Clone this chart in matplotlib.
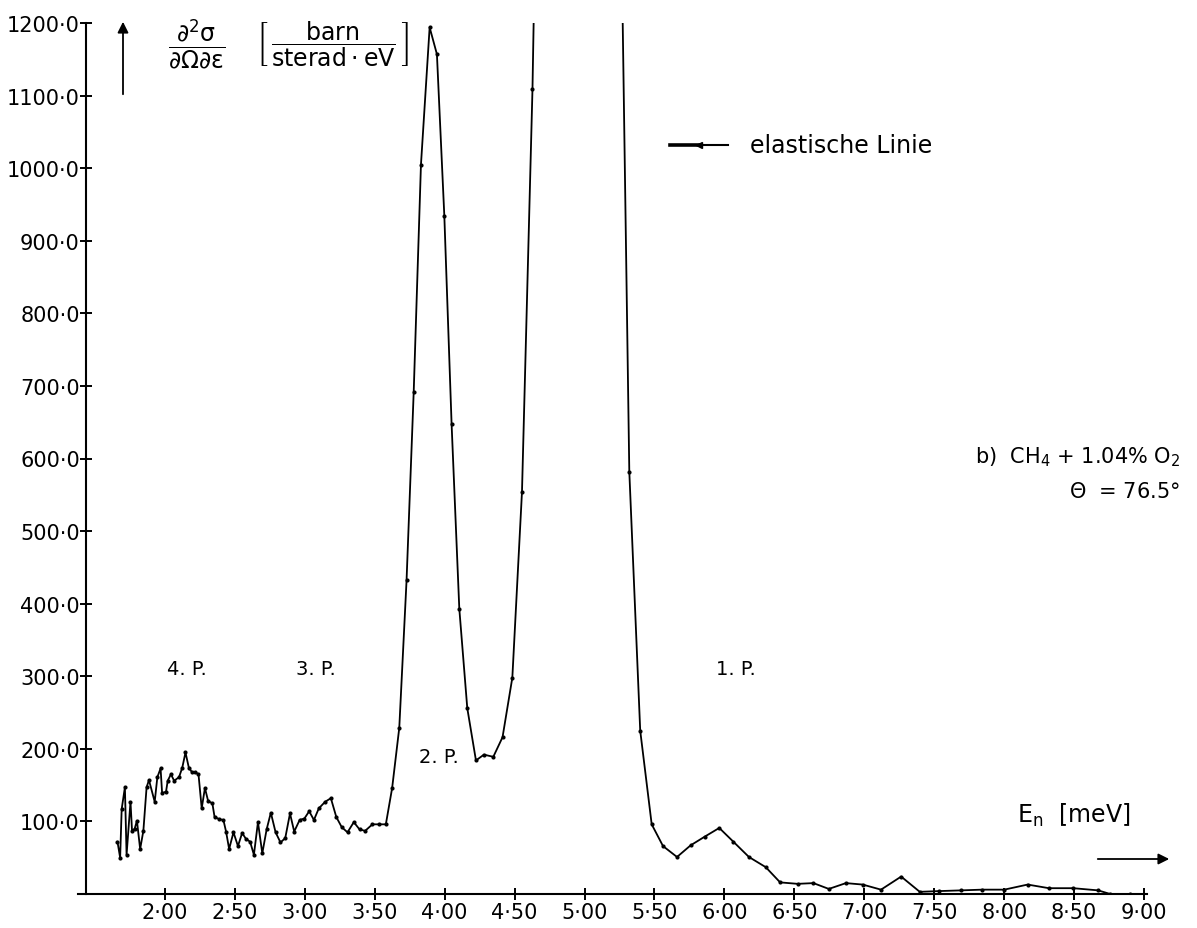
import matplotlib
matplotlib.use('Agg')
import matplotlib.pyplot as plt
from matplotlib.lines import Line2D
from matplotlib.ticker import FixedLocator, FuncFormatter

# neutron energy [meV] and double differential cross section [barn/(sterad eV)]
energy = [1.662, 1.681, 1.692, 1.715, 1.727, 1.755, 1.766, 1.785, 1.801, 1.824,
          1.847, 1.870, 1.887, 1.928, 1.947, 1.970, 1.981, 2.009, 2.021, 2.044,
          2.067, 2.102, 2.125, 2.148, 2.172, 2.194, 2.217, 2.241, 2.264, 2.287,
          2.310, 2.340, 2.356, 2.391, 2.419, 2.438, 2.460, 2.491, 2.523, 2.553,
          2.580, 2.610, 2.637, 2.666, 2.697, 2.728, 2.758, 2.792, 2.827, 2.861,
          2.895, 2.925, 2.964, 2.998, 3.032, 3.066, 3.101, 3.146, 3.187, 3.226,
          3.265, 3.306, 3.351, 3.392, 3.432, 3.484, 3.529, 3.580, 3.625, 3.676,
          3.728, 3.779, 3.831, 3.893, 3.945, 3.998, 4.050, 4.105, 4.162, 4.224,
          4.281, 4.348, 4.414, 4.484, 4.553, 4.628,
          4.70, 4.78, 4.86, 4.94, 5.02, 5.10, 5.18, 5.25,
          5.320, 5.398, 5.480, 5.561, 5.661, 5.758, 5.859, 5.963, 6.064, 6.175,
          6.295, 6.398, 6.523, 6.636, 6.746, 6.868, 6.988, 7.119, 7.263, 7.396,
          7.534, 7.691, 7.843, 8.000, 8.167, 8.319, 8.493, 8.671, 8.757, 8.90]
cross_section = [72, 50, 117, 147, 54, 127, 87, 90, 101, 62,
                 87, 147, 157, 127, 161, 173, 139, 141, 156, 165,
                 156, 161, 174, 195, 174, 168, 168, 165, 118, 146,
                 128, 125, 106, 103, 102, 86, 62, 85, 66, 84,
                 76, 72, 54, 99, 56, 89, 112, 85, 71, 77,
                 111, 86, 102, 104, 114, 102, 118, 127, 132, 106,
                 92, 85, 99, 89, 87, 96, 96, 96, 146, 229,
                 432, 691, 1005, 1194, 1157, 934, 647, 393, 256, 184,
                 192, 189, 216, 298, 554, 1109,
                 1900, 2900, 3700, 4100, 4000, 3400, 2500, 1500,  # elastic line, off scale
                 582, 225, 96, 66, 51, 67, 79, 91, 72, 51,
                 37, 16, 14, 15, 7, 15, 13, 6, 24, 3,
                 4, 5, 6, 6, 13, 8, 8, 5, 0, 0]

x_ticks = [2.0, 2.5, 3.0, 3.5, 4.0, 4.5, 5.0, 5.5, 6.0, 6.5, 7.0, 7.5, 8.0, 8.5, 9.0]
y_ticks = [100, 200, 300, 400, 500, 600, 700, 800, 900, 1000, 1100, 1200]

peak_labels = ['4. P.', '3. P.', '2. P.', '1. P.']
peak_x = [2.16, 3.08, 3.96, 6.08]
peak_y = [311, 311, 190, 311]

W, H = 1197, 929
plt.rcParams['mathtext.fontset'] = 'dejavusans'

fig = plt.figure(figsize=(W / 100, H / 100), dpi=100)
ax = fig.add_axes([86 / W, 34 / H, 1061 / W, 871 / H])

ax.plot(energy, cross_section, color='black', lw=1.3, marker='o', ms=3,
        markerfacecolor='black', markeredgewidth=0)

ax.set_xlim(1.437, 9.02)
ax.set_ylim(0, 1200)

ax.spines['top'].set_visible(False)
ax.spines['right'].set_visible(False)
ax.spines['left'].set_linewidth(1.5)
ax.spines['bottom'].set_linewidth(1.5)
ax.spines['bottom'].set_bounds(1.38, 9.02)

ax.xaxis.set_major_locator(FixedLocator(x_ticks))
ax.yaxis.set_major_locator(FixedLocator(y_ticks))
ax.xaxis.set_major_formatter(FuncFormatter(lambda v, p: f'{v:.2f}'.replace('.', '·')))
ax.yaxis.set_major_formatter(FuncFormatter(lambda v, p: f'{v:.1f}'.replace('.', '·')))
ax.tick_params(axis='both', direction='inout', length=9, width=1.4, labelsize=15)
ax.tick_params(axis='x', pad=1)
ax.tick_params(axis='y', pad=0)

for lab, px_, py_ in zip(peak_labels, peak_x, peak_y):
    ax.text(px_, py_, lab, fontsize=14, ha='center', va='center')


def fp(x, y):
    # image pixel (from top-left) -> figure fraction
    return x / W, 1 - y / H


# y axis label
ax.annotate('', xy=(123, H - 20), xytext=(123, H - 98), xycoords='figure pixels',
            textcoords='figure pixels',
            arrowprops=dict(arrowstyle='-|>', lw=1.3, color='black', mutation_scale=16))
fig.text(*fp(197, 44), r'$\dfrac{\partial^2\mathrm{\sigma}}{\partial\Omega\partial\mathrm{\varepsilon}}$',
         fontsize=17, ha='center', va='center')
fig.text(*fp(333, 44), r'$\left[\,\dfrac{\mathrm{barn}}{\mathrm{sterad\cdot eV}}\,\right]$',
         fontsize=17, ha='center', va='center')

# elastic line marker
y_el = 1 - 146 / H
fig.add_artist(Line2D([670 / W, 699 / W], [y_el, y_el], color='black', lw=2.6,
                      transform=fig.transFigure))
fig.add_artist(Line2D([699 / W, 728 / W], [y_el, y_el], color='black', lw=1.5,
                      transform=fig.transFigure))
fig.add_artist(Line2D([699 / W], [y_el], color='black', marker='<', ms=5,
                      transform=fig.transFigure))
fig.text(*fp(750, 146), 'elastische Linie', fontsize=17, ha='left', va='center')

# sample description
fig.text(*fp(1180, 457), r'b)  CH$_4$ + 1.04% O$_2$', fontsize=15, ha='right', va='center')
fig.text(*fp(1180, 492), r'$\Theta$  = 76.5°', fontsize=15, ha='right', va='center')

# x axis label
fig.text(*fp(1017, 815), r'E$_\mathrm{n}$  [meV]', fontsize=17, ha='left', va='center')
ax.annotate('', xy=(1172, H - 860), xytext=(1095, H - 860), xycoords='figure pixels',
            textcoords='figure pixels',
            arrowprops=dict(arrowstyle='-|>', lw=1.3, color='black', mutation_scale=16))

fig.savefig('out.png', dpi=100, facecolor='white')
